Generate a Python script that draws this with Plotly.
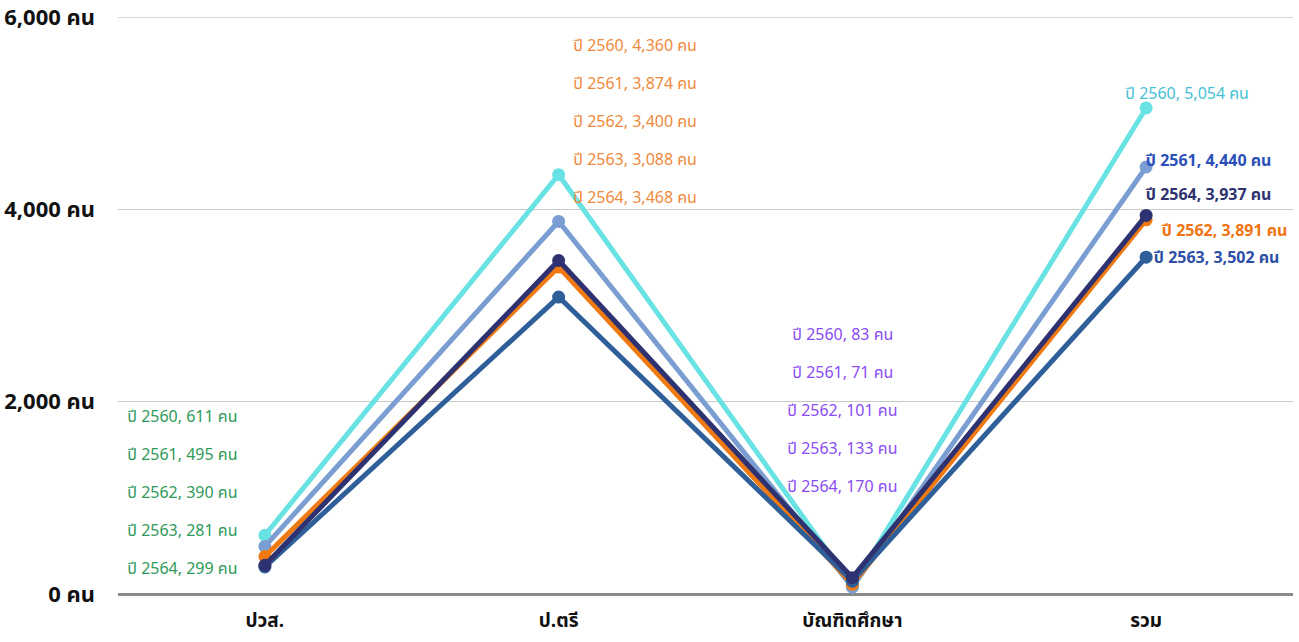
import plotly.graph_objects as go

# ---- data ----
categories = ["ปวส.", "ป.ตรี", "บัณฑิตศึกษา", "รวม"]
years = ["2560", "2561", "2562", "2563", "2564"]
v2560 = [611, 4360, 83, 5054]
v2561 = [495, 3874, 71, 4440]
v2562 = [390, 3400, 101, 3891]
v2563 = [281, 3088, 133, 3502]
v2564 = [299, 3468, 170, 3937]
series = [v2560, v2561, v2562, v2563, v2564]
y_ticks = [0, 2000, 4000, 6000]

# ---- styles ----
line_colors = ["#69e2e4", "#7a9dd2", "#f07a12", "#2f5f98", "#2f3270"]
W, H = 1299, 642
ML, MR, MT, MB = 118, 6, 17, 48
PH = H - MT - MB
FONT = "Tahoma, 'Noto Sans Thai', 'Leelawadee UI', sans-serif"

fig = go.Figure()
for yr, vals, col in zip(years, series, line_colors):
    fig.add_trace(go.Scatter(
        x=categories, y=vals, mode="lines+markers", name="ปี " + yr,
        line=dict(color=col, width=5), marker=dict(color=col, size=13),
        hoverinfo="skip", showlegend=False, cliponaxis=False))

def paper_y(py):
    return (H - MB - py) / PH

def fmt(yr, v):
    return f"ปี {yr}, {v:,} คน"

# stacked label groups (category index, pixel y list, xshift, color)
groups = [
    (0, [417, 455, 493, 531, 569], -83, "#2f9a5a"),
    (1, [46, 84, 122, 160, 198], 76, "#ef8a3c"),
    (2, [335, 373, 411, 449, 487], -10, "#8a4cf4"),
]
for ci, pys, xs, col in groups:
    for k, (yr, vals) in enumerate(zip(years, series)):
        fig.add_annotation(x=categories[ci], xref="x", y=paper_y(pys[k]), yref="paper",
                           xanchor="center", yanchor="middle",
                           text=fmt(yr, vals[ci]), showarrow=False, xshift=xs,
                           font=dict(family=FONT, size=16, color=col))

# total labels, placed individually
tot_pos = {"2560": (94, 41, "#45bfd6"), "2561": (161, 62, "#2d4fba"),
           "2562": (231, 78, "#f07412"), "2563": (258, 70, "#2d4fa8"),
           "2564": (195, 62, "#2e3370")}
for yr, vals in zip(years, series):
    py, xs, col = tot_pos[yr]
    fig.add_annotation(x=categories[3], xref="x", y=paper_y(py), yref="paper",
                       xanchor="center", yanchor="middle",
                       text="<b>" + fmt(yr, vals[3]) + "</b>" if yr != "2560" else fmt(yr, vals[3]),
                       showarrow=False, xshift=xs,
                       font=dict(family=FONT, size=16, color=col))

# top gridline (plotly drops the gridline at the axis edge)
fig.add_shape(type="line", xref="paper", x0=0, x1=1, yref="y", y0=y_ticks[-1], y1=y_ticks[-1],
              line=dict(color="#c8c8c8", width=1.3), layer="below")

fig.update_layout(
    width=W, height=H, margin=dict(l=ML, r=MR, t=MT, b=MB),
    plot_bgcolor="white", paper_bgcolor="white",
    font=dict(family=FONT),
    xaxis=dict(range=[-0.5, 3.5], showgrid=False, showline=False, zeroline=False,
               automargin=False,
               ticks="", tickfont=dict(family=FONT, size=19, color="#111"),
               ticklabelstandoff=13),
    yaxis=dict(range=[0, 6000], tickvals=y_ticks,
               ticktext=[f"<b>{v:,} คน</b>" for v in y_ticks],
               automargin=False,
               showgrid=True, gridcolor="#c8c8c8", gridwidth=1.3,
               zeroline=True, zerolinecolor="#8a8a8a", zerolinewidth=3,
               showline=False, ticks="", tickfont=dict(family=FONT, size=22, color="#111"),
               ticklabelstandoff=22),
)
fig.update_xaxes(tickvals=categories, ticktext=[f"<b>{c}</b>" for c in categories])
fig.write_html("out.html", config={"displayModeBar": False},
               post_script="document.body.style.margin='0';document.body.style.overflow='hidden';")
